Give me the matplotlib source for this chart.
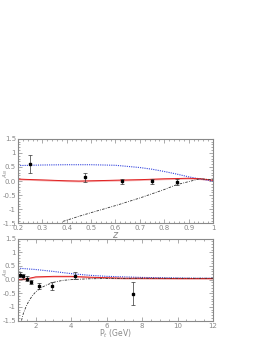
import matplotlib.pyplot as plt
import matplotlib.transforms as mtransforms
import numpy as np
from matplotlib.ticker import MultipleLocator

# ---- datos panel superior (z) ----
z_pts = [0.25, 0.475, 0.627, 0.751, 0.854]
an_z = [0.60, 0.13, -0.01, -0.01, -0.04]
err_z = [0.31, 0.17, 0.10, 0.10, 0.10]

z_azul = [0.2, 0.3, 0.4, 0.5, 0.6, 0.7, 0.75, 0.8, 0.85, 0.9, 0.95, 1.0]
an_azul_z = [0.55, 0.57, 0.58, 0.58, 0.56, 0.48, 0.42, 0.34, 0.25, 0.15, 0.07, 0.0]

z_rojo = [0.2, 0.3, 0.4, 0.45, 0.5, 0.6, 0.7, 0.8, 0.9, 0.95, 1.0]
an_rojo_z = [0.07, 0.04, 0.01, 0.0, 0.01, 0.03, 0.05, 0.08, 0.10, 0.08, 0.03]

z_negro = [0.385, 0.45, 0.5, 0.6, 0.7, 0.8, 0.85, 0.9, 0.945, 1.0]
an_negro_z = [-1.43, -1.25, -1.12, -0.87, -0.60, -0.30, -0.13, -0.02, 0.08, 0.05]

# ---- datos panel inferior (Pt) ----
pt_pts = [1.09, 1.28, 1.5, 1.75, 2.18, 2.92, 4.23, 7.48]
an_pt = [0.18, 0.12, 0.04, -0.09, -0.23, -0.23, 0.14, -0.52]
err_pt = [0.10, 0.10, 0.10, 0.08, 0.12, 0.15, 0.13, 0.42]

pt_azul = [1, 2, 3, 4, 5, 6, 7, 8, 9, 10, 11, 12]
an_azul_pt = [0.42, 0.37, 0.30, 0.22, 0.16, 0.12, 0.10, 0.08, 0.07, 0.06, 0.05, 0.05]

pt_rojo = [1, 1.5, 2, 3, 4, 5, 6, 7, 8, 10, 12]
an_rojo_pt = [0.0, 0.03, 0.10, 0.12, 0.12, 0.09, 0.07, 0.05, 0.05, 0.04, 0.04]

pt_negro = [1.2, 1.3, 1.45, 1.6, 1.8, 2.0, 2.3, 2.6, 3.0, 3.5, 4.0, 5.0, 6.0, 8.0, 10.0, 12.0]
an_negro_pt = [-1.5, -1.25, -1.0, -0.8, -0.6, -0.45, -0.3, -0.2, -0.1, -0.03, 0.0, 0.03, 0.04, 0.05, 0.05, 0.05]

gris = "#888888"


def estilo(ax):
    for s in ax.spines.values():
        s.set_color(gris)
        s.set_linewidth(0.8)
    ax.tick_params(which="both", direction="in", top=True, right=True,
                   colors=gris, labelsize=5, pad=1.5)
    ax.tick_params(which="major", length=3, width=0.5)
    ax.tick_params(which="minor", length=1.5, width=0.5)
    ax.set_ylim(-1.5, 1.5)
    ax.yaxis.set_minor_locator(MultipleLocator(0.1))
    ax.set_yticks([-1.5, -1, -0.5, 0, 0.5, 1, 1.5])
    ax.set_yticklabels(["-1.5", "-1", "-0.5", "0.0", "0.5", "1", "1.5"])


def curvas(ax, x_az, y_az, x_ro, y_ro, x_ne, y_ne):
    ax.plot(x_az, y_az, color="#3344dd", ls=(0, (1, 1)), lw=0.8)
    y_ro = np.array(y_ro)
    ax.fill_between(x_ro, y_ro - 0.03, y_ro + 0.03, color="#f5b0b0", lw=0)
    ax.plot(x_ro, y_ro, color="#e02020", lw=0.7)
    ax.plot(x_ne, y_ne, color="#333333", ls=(0, (3, 1.5, 1, 1.5)), lw=0.6)


fig = plt.figure(figsize=(2.64, 3.41), dpi=100)

ax1 = fig.add_axes([0.068, 0.345, 0.739, 0.248])
curvas(ax1, z_azul, an_azul_z, z_rojo, an_rojo_z, z_negro, an_negro_z)
ax1.errorbar(z_pts, an_z, yerr=err_z, fmt="s", ms=1.6, color="black",
             ecolor="#333333", elinewidth=0.5, capsize=1.5, capthick=0.5)
ax1.set_xlim(0.2, 1.0)
estilo(ax1)
ax1.xaxis.set_minor_locator(MultipleLocator(0.02))
ax1.set_xticks([0.2, 0.3, 0.4, 0.5, 0.6, 0.7, 0.8, 0.9, 1.0])
ax1.set_xticklabels(["0.2", "0.3", "0.4", "0.5", "0.6", "0.7", "0.8", "0.9", "1"])
ax1.set_xlabel("$z$", fontsize=7, color=gris, labelpad=-1)

ax2 = fig.add_axes([0.068, 0.060, 0.739, 0.240])
curvas(ax2, pt_azul, an_azul_pt, pt_rojo, an_rojo_pt, pt_negro, an_negro_pt)
ax2.errorbar(pt_pts, an_pt, yerr=err_pt, fmt="s", ms=1.6, color="black",
             ecolor="#333333", elinewidth=0.5, capsize=1.5, capthick=0.5)
ax2.set_xlim(1, 12)
estilo(ax2)
ax2.xaxis.set_major_locator(MultipleLocator(2))
ax2.xaxis.set_minor_locator(MultipleLocator(0.5))
ax2.set_xlabel("P$_t$ (GeV)", fontsize=5.5, color=gris, labelpad=-0.5)

# etiqueta A_N entre los numeros 0.0 y 0.5 del eje
for ax in (ax1, ax2):
    trans = mtransforms.blended_transform_factory(fig.transFigure, ax.transData)
    ax.text(0.022, 0.25, "$A_N$", transform=trans, rotation=90,
            fontsize=4, color=gris, va="center", ha="center")

fig.savefig("out.png", dpi=100)
